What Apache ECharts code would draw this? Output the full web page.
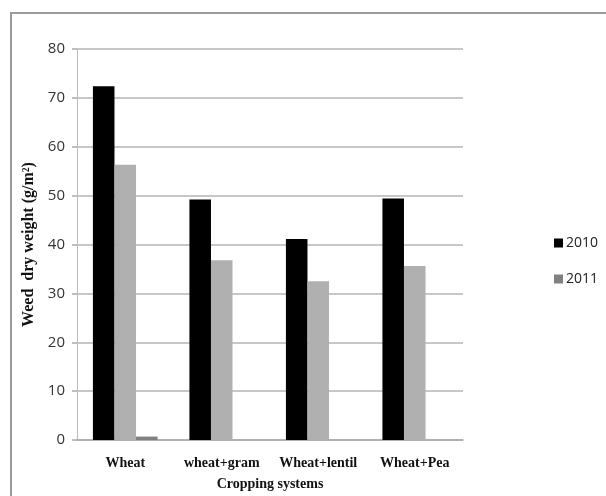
<!DOCTYPE html>
<html><head><meta charset="utf-8">
<script src="https://cdn.jsdelivr.net/npm/echarts@6/dist/echarts.min.js"></script>
<style>html,body{margin:0;padding:0;background:#fff}#c{width:606px;height:496px}</style>
</head><body><div id="c"></div>
<script>
const categories = ['Wheat', 'wheat+gram', 'Wheat+lentil', 'Wheat+Pea'];
const s2010 = [72.4, 49.2, 41.1, 49.4];
const sGrey = [56.3, 36.8, 32.5, 35.6];
const s2011 = [0.7, 0, 0, 0];
const yTicks = [0, 10, 20, 30, 40, 50, 60, 70, 80];

const chart = echarts.init(document.getElementById('c'));
chart.setOption({
  animation: false,
  graphic: [{type: 'rect', shape: {x: 11, y: 13, width: 620, height: 520}, style: {fill: 'none', stroke: '#9a9a9a', lineWidth: 2}}],
  grid: {left: 77, right: 143, top: 49, bottom: 55, containLabel: false},
  legend: {
    orient: 'vertical', left: 549, top: 231, itemWidth: 9, itemHeight: 9, itemGap: 22,
    icon: 'rect', data: ['2010', '2011'],
    textStyle: {fontFamily: 'Open Sans', fontSize: 14, color: '#222', padding: [0,0,0,-2]}
  },
  xAxis: {
    type: 'category', data: categories,
    name: 'Cropping systems', nameLocation: 'middle', nameGap: 37,
    nameTextStyle: {fontFamily: 'Liberation Serif', fontWeight: 'bold', fontSize: 14, color: '#111'},
    axisLine: {lineStyle: {color: '#aaa', width: 1.5}},
    axisTick: {show: false},
    axisLabel: {interval: 0, hideOverlap: false, fontFamily: 'Liberation Serif', fontWeight: 'bold', fontSize: 14, color: '#111', margin: 16}
  },
  yAxis: {
    type: 'value', min: yTicks[0], max: yTicks[yTicks.length-1], interval: 10,
    name: 'Weed  dry weight (g/m²)', nameLocation: 'middle', nameGap: 40,
    nameTextStyle: {fontFamily: 'Liberation Serif', fontWeight: 'bold', fontSize: 16, color: '#111'},
    axisLine: {show: true, lineStyle: {color: '#bbb', width: 1}},
    axisTick: {show: true, length: 5, lineStyle: {color: '#aaa', width: 1.5}},
    axisLabel: {fontFamily: 'Open Sans', fontSize: 15, color: '#333', margin: 12},
    splitLine: {lineStyle: {color: '#b4b4b4', width: 1.5}}
  },
  series: [
    {name: '2010', type: 'bar', data: s2010, itemStyle: {color: '#000'}, barGap: '0%', barCategoryGap: '33%'},
    {name: 'grey', type: 'bar', data: sGrey, itemStyle: {color: '#b0b0b0'}},
    {name: '2011', type: 'bar', data: s2011, itemStyle: {color: '#808080'}}
  ]
});
</script></body></html>
